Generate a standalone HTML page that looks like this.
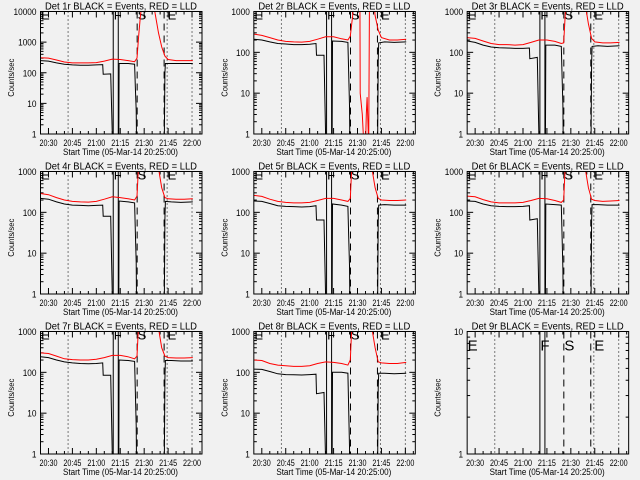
<!DOCTYPE html>
<html><head><meta charset="utf-8"><style>
html,body{margin:0;padding:0;background:#f1f1f1;}
svg{display:block;font-family:"Liberation Sans",sans-serif;}
</style></head><body>
<svg id="chart" width="640" height="480" viewBox="0 0 640 480" xmlns="http://www.w3.org/2000/svg">
<rect x="0" y="0" width="640" height="480" fill="#f1f1f1"/>
</svg>
<script>
// time in minutes after 20:25:00
const blackTimes = [0,5,10,15,20,25,30,35,39,39.3,44,45.5,49,49.3,55,59,59.5,60,60.4,77.5,78,78.3,82,88,95.5];
const redTimes = [0,5,10,15,20,25,30,35,40,45,50,55,59,60.5,61.5,62.5,64,70,72,74,76,78,80,85,90,95.5];
const redTimesDet2 = [0,5,10,15,20,25,30,35,40,45,50,55,59,60.5,62,62.5,66.5,66.7,68,69,70,70.5,71,71.5,72,72.5,73,75,76,78,80,85,90,95.5];
const panelLabels = ["Det 1r","Det 2r","Det 3r","Det 4r","Det 5r","Det 6r","Det 7r","Det 8r","Det 9r"];
const yMaxValues = [10000,1000,1000,1000,1000,1000,1000,1000,10];
const black1 = [250,240,210,190,180,175,175,180,185,90,92,0.1,0.1,200,200,190,30,6,0.1,0.1,100,200,200,200,200];
const black2 = [210,200,180,165,160,155,155,158,165,85,85,0.1,0.1,190,185,175,30,5,0.1,0.1,60,170,180,175,180];
const black3 = [190,175,150,135,130,128,125,125,128,70,75,0.1,0.1,150,150,140,25,5,0.1,0.1,55,140,145,140,145];
const black4 = [220,210,180,160,150,148,145,148,150,80,80,0.1,0.1,190,180,170,30,6,0.1,0.1,70,185,180,175,180];
const black5 = [190,185,165,145,140,138,135,138,145,65,65,0.1,0.1,160,150,140,25,5,0.1,0.1,60,150,155,150,150];
const black6 = [190,185,160,145,140,138,138,140,145,65,70,0.1,0.1,160,155,150,25,4,0.1,0.1,60,155,155,150,150];
const black7 = [240,230,200,180,170,165,162,165,170,85,85,0.1,0.1,200,195,185,30,5,0.1,0.1,70,195,195,190,190];
const black8 = [120,118,105,92,88,87,86,88,90,30,32,0.1,0.1,100,100,95,12,1.5,0.1,0.1,40,95,95,92,95];
const red1 = [310,300,260,225,210,210,210,215,240,280,270,250,230,300,1500,6000,30000,30000,8000,2000,700,350,270,250,250,250];
const red2 = [280,260,230,200,185,180,178,185,210,240,240,215,200,250,800,3000,3000,10,3,0.5,0.5,3,8,2,0.5,3000,3000,2000,800,350,230,200,200,210];
const red3 = [230,220,190,165,155,155,150,155,175,200,200,185,165,170,900,4000,30000,30000,5000,1500,500,220,180,170,170,175];
const red4 = [290,270,230,200,185,180,178,185,210,240,230,215,200,250,1500,5000,30000,30000,4000,1200,400,230,215,210,210,215];
const red5 = [260,245,210,185,175,170,170,175,195,220,220,200,185,220,1500,5000,30000,30000,4000,1200,400,220,200,195,195,200];
const red6 = [250,240,205,180,170,170,170,175,195,220,215,195,175,200,1500,5000,30000,30000,4000,1200,400,210,195,185,190,195];
const red7 = [300,290,250,215,205,200,200,210,230,260,260,240,215,250,1500,5000,30000,30000,4000,1200,400,250,230,225,225,230];
const red8 = [200,195,165,150,145,140,140,145,165,180,175,165,150,200,1500,5000,30000,30000,4000,1200,400,180,170,165,165,175];
const blackSeries = [black1,black2,black3,black4,black5,black6,black7,black8,[]];
const redSeries = [red1,red2,red3,red4,red5,red6,red7,red8,[]];
const xTickLabels = ["20:30","20:45","21:00","21:15","21:30","21:45","22:00"];
const xTickMinutes = [5,20,35,50,65,80,95];
const dottedTimes = [17.3,79.4,95];
const solidTimes = [45.6,48.75];
const dashedTimes = [60.6,77.5];
const letterTimes = [0,45.6,60.6,79.4];
const letterTexts = ["E","F","S","E"];

const NS = "http://www.w3.org/2000/svg";
const svg = document.getElementById('chart');
function mk(tag, attrs, parent){
  const e = document.createElementNS(NS, tag);
  for (const k in attrs) e.setAttribute(k, attrs[k]);
  (parent||svg).appendChild(e);
  return e;
}
const T0 = 0, T1 = 101.25;
for (let p = 0; p < 9; p++) {
  const col = p % 3, row = Math.floor(p / 3);
  const ox = col * 213.33, oy = row * 160;
  const L = ox + 40.5, R = ox + 202, TOP = oy + 11.5, BOT = oy + 134;
  const ymax = yMaxValues[p];
  const dec = Math.log10(ymax);
  const xs = m => L + (m - T0) / (T1 - T0) * (R - L);
  const ys = v => BOT - Math.log10(Math.max(v, 1e-3)) / dec * (BOT - TOP);
  const g = mk('g', {});
  
  
  const clipId = 'clip' + p;
  const cp = mk('clipPath', {id: clipId}, g);
  mk('rect', {x: L, y: TOP, width: R - L, height: BOT - TOP}, cp);

  const title = mk('text', {x: ox + 45, y: oy + 9.5, 'font-size': 10, fill: '#000', textLength: 152, lengthAdjust: 'spacingAndGlyphs'}, g);
  title.textContent = panelLabels[p] + " BLACK = Events, RED = LLD";
  
  

  for (let d = 0; d <= dec; d++) {
    const v = Math.pow(10, d);
    const y = ys(v);
    mk('line', {x1: L, x2: L + 6, y1: y, y2: y, stroke: '#000', 'stroke-width': 1}, g);
    mk('line', {x1: R, x2: R - 6, y1: y, y2: y, stroke: '#000', 'stroke-width': 1}, g);
    const s = String(v);
    const t = mk('text', {x: L - 4 - s.length * 4.6, y: y + 3.5, 'font-size': 9, fill: '#000', textLength: s.length * 4.6, lengthAdjust: 'spacingAndGlyphs'}, g);
    t.textContent = s;
    
    
    if (d < dec) for (let k = 2; k <= 9; k++) {
      const yy = ys(k * v);
      mk('line', {x1: L, x2: L + 3, y1: yy, y2: yy, stroke: '#000', 'stroke-width': 1}, g);
      mk('line', {x1: R, x2: R - 3, y1: yy, y2: yy, stroke: '#000', 'stroke-width': 1}, g);
    }
  }
  for (let m = 5; m <= 100; m += 5) {
    const x = xs(m);
    const major = xTickMinutes.indexOf(m) >= 0;
    const len = major ? 6 : 3;
    mk('line', {x1: x, x2: x, y1: BOT, y2: BOT - len, stroke: '#000', 'stroke-width': 1}, g);
    mk('line', {x1: x, x2: x, y1: TOP, y2: TOP + len, stroke: '#000', 'stroke-width': 1}, g);
  }
  xTickLabels.forEach((lab, i) => {
    const t = mk('text', {x: xs(xTickMinutes[i]) - 9, y: BOT + 12, 'font-size': 9, fill: '#000', textLength: 18, lengthAdjust: 'spacingAndGlyphs'}, g);
    t.textContent = lab;
    
    
  });
  const xt = mk('text', {x: ox + 63, y: BOT + 21, 'font-size': 9.5, fill: '#000', textLength: 115, lengthAdjust: 'spacingAndGlyphs'}, g);
  xt.textContent = "Start Time (05-Mar-14 20:25:00)";
  
  
  const yt = mk('text', {x: -19, y: 0, 'font-size': 8, fill: '#000', textLength: 38, lengthAdjust: 'spacingAndGlyphs', transform: `translate(${ox + 14},${(TOP + BOT) / 2 + 5}) rotate(-90)`}, g);
  yt.textContent = "Counts/sec";
  
  

  const inner = mk('g', {'clip-path': `url(#${clipId})`}, g);
  dottedTimes.forEach(m => { const l = mk('line', {x1: xs(m), x2: xs(m), y1: TOP, y2: BOT, stroke: '#000', 'stroke-width': 1, 'stroke-dasharray': '1,3'}, inner);
      });
  solidTimes.forEach(m => { const l = mk('line', {x1: xs(m), x2: xs(m), y1: TOP, y2: BOT, stroke: '#000', 'stroke-width': 1}, inner);
      });
  dashedTimes.forEach(m => { const l = mk('line', {x1: xs(m), x2: xs(m), y1: TOP, y2: BOT, stroke: '#000', 'stroke-width': 1, 'stroke-dasharray': '7,5'}, inner);
      });
  letterTimes.forEach((m, i) => {
    const big = p === 8;
    const t = mk('text', {x: xs(m) + 0.5, y: big ? TOP + 19 : TOP + 8, 'font-size': big ? 15 : 13, fill: '#000'}, big ? g : inner);
    t.textContent = letterTexts[i];
    
    
  });
  const bv = blackSeries[p], rv = redSeries[p];
  const rt = p === 1 ? redTimesDet2 : redTimes;
  if (bv.length) {
    const d = bv.map((v, i) => (i ? 'L' : 'M') + xs(blackTimes[i]).toFixed(1) + ',' + ys(v).toFixed(1)).join(' ');
    const pl = mk('path', {d: d, fill: 'none', stroke: '#000', 'stroke-width': 1}, inner);
    
    
  }
  if (rv.length) {
    const d = rv.map((v, i) => (i ? 'L' : 'M') + xs(rt[i]).toFixed(1) + ',' + ys(v).toFixed(1)).join(' ');
    const pl = mk('path', {d: d, fill: 'none', stroke: '#ff0000', 'stroke-width': 1}, inner);
    
    
  }
  const fr = mk('rect', {x: L, y: TOP, width: R - L, height: BOT - TOP, fill: 'none', stroke: '#000', 'stroke-width': 1}, g);
  
  
}
</script>
</body></html>
